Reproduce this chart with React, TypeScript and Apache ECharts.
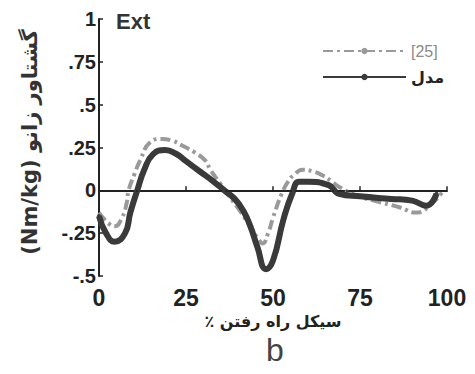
import React, { useEffect, useRef } from "react";
import * as echarts from "echarts";

const modelName = "مدل";
const refName = "[25]";

const modelX = [0, 2, 4.5, 7.5, 9, 11, 13, 15.5, 19, 22, 25, 29, 33, 36, 39, 41.5, 43.5, 45.5, 48, 50, 53, 55.5, 57.5, 60, 66, 69, 75, 84, 90, 94, 97];
const modelY = [-0.15, -0.25, -0.3, -0.25, -0.13, 0.0, 0.12, 0.21, 0.235, 0.215, 0.17, 0.11, 0.05, 0.0, -0.05, -0.12, -0.21, -0.33, -0.46, -0.41, -0.17, -0.02, 0.05, 0.05, 0.03, -0.02, -0.035, -0.05, -0.06, -0.09, -0.02];

const refX = [0, 2.6, 4.5, 6.6, 8, 8.5, 10.3, 11.8, 14.7, 18, 21, 24, 27.6, 30.5, 32, 34.8, 37.6, 40.5, 43.4, 46, 47, 48.6, 50, 52.5, 54.3, 56, 58.6, 61.5, 64, 67, 69, 74, 79, 86.5, 91, 95, 99];
const refY = [-0.13, -0.19, -0.21, -0.16, -0.07, 0.0, 0.1, 0.175, 0.28, 0.3, 0.29, 0.26, 0.22, 0.175, 0.12, 0.04, -0.04, -0.12, -0.21, -0.29, -0.31, -0.25, -0.16, -0.02, 0.05, 0.09, 0.12, 0.11, 0.09, 0.05, 0.02, -0.03, -0.06, -0.1, -0.13, -0.09, 0.0];

const xTicks = [0, 25, 50, 75, 100];
const yMin = -0.5;
const yMax = 1;
const yStep = 0.25;

const xAxisTitle = "٪ سیکل راه رفتن";
const yAxisTitle = "(Nm/kg) گشتاور زانو";
const panelLabel = "b";
const cornerLabel = "Ext";

const numFont = "'Liberation Sans', Arial, sans-serif";
const faFont = "'DejaVu Sans', sans-serif";

function fmtY(v: number): string {
  if (v === 0) return "0";
  if (v === 1) return "1";
  return String(v).replace("0.", ".");
}

export default function App() {
  const ref = useRef<HTMLDivElement>(null);
  useEffect(() => {
    if (!ref.current) return;
    const chart = echarts.init(ref.current, null, { renderer: "svg" });
    const model = modelX.map((x, i) => [x, modelY[i]]);
    const refData = refX.map((x, i) => [x, refY[i]]);
    chart.setOption({
      animation: false,
      backgroundColor: "#fff",
      grid: { left: 99, right: 28, top: 19, bottom: 98 },
      legend: {
        orient: "vertical",
        left: 317,
        top: 38,
        itemWidth: 83,
        itemHeight: 8,
        itemGap: 10,
        data: [
          { name: refName, textStyle: { color: "#8a8a8a", fontSize: 16, fontFamily: numFont } },
          { name: modelName, textStyle: { color: "#222", fontSize: 16, fontWeight: "bold", fontFamily: faFont } },
        ],
      },
      xAxis: {
        type: "value",
        min: 0,
        max: 100,
        interval: 25,
        splitLine: { show: false },
        axisLine: { lineStyle: { color: "#222", width: 2 } },
        axisTick: { inside: true, length: 4, lineStyle: { color: "#222", width: 1.5 } },
        axisLabel: {
          margin: 10,
          fontSize: 23,
          fontWeight: "bold",
          fontFamily: numFont,
          color: "#222",
          formatter: (v: number) => (xTicks.includes(v) ? String(v) : ""),
        },
        name: xAxisTitle,
        nameLocation: "middle",
        nameGap: 35,
        nameTextStyle: { fontSize: 16, fontWeight: "bold", fontFamily: faFont, color: "#222" },
      },
      yAxis: {
        type: "value",
        min: yMin,
        max: yMax,
        interval: yStep,
        splitLine: { show: false },
        axisLine: { show: true, lineStyle: { color: "#222", width: 2 } },
        axisTick: { show: true, inside: true, length: 4, lineStyle: { color: "#222", width: 1.5 } },
        axisLabel: {
          margin: 3,
          fontSize: 20,
          fontWeight: "bold",
          fontFamily: numFont,
          color: "#222",
          formatter: fmtY,
        },
      },
      graphic: [
        {
          type: "text",
          left: 116,
          top: 10,
          style: { text: cornerLabel, fontSize: 22, fontWeight: "bold", fontFamily: numFont, fill: "#333" },
        },
        {
          type: "text",
          x: 30,
          y: 142,
          rotation: Math.PI / 2,
          style: {
            text: yAxisTitle,
            fontSize: 21,
            fontWeight: "bold",
            fontFamily: faFont,
            fill: "#333",
            align: "center",
            verticalAlign: "middle",
          },
        },
        {
          type: "text",
          x: 275,
          y: 350,
          style: {
            text: panelLabel,
            fontSize: 32,
            fontFamily: numFont,
            fill: "#444",
            align: "center",
            verticalAlign: "middle",
          },
        },
      ],
      series: [
        {
          name: refName,
          type: "line",
          data: refData,
          smooth: true,
          symbol: "none",
          z: 2,
          itemStyle: { color: "#9a9a9a" },
          lineStyle: { color: "#9a9a9a", width: 4, type: [10, 4, 3, 4] },
          markLine: {
            silent: true,
            symbol: "none",
            label: { show: false },
            lineStyle: { color: "#222", width: 1.5, type: [6, 3, 2, 3] },
            data: [{ yAxis: 0 }],
          },
        },
        {
          name: modelName,
          type: "line",
          data: model,
          smooth: true,
          symbol: "circle",
          symbolSize: 4,
          z: 3,
          itemStyle: { color: "#3a3a3a" },
          lineStyle: { color: "#3a3a3a", width: 6 },
        },
      ],
    });
    return () => chart.dispose();
  }, []);
  return <div ref={ref} style={{ width: 475, height: 374, position: "absolute", left: 0, top: 0 }} />;
}
